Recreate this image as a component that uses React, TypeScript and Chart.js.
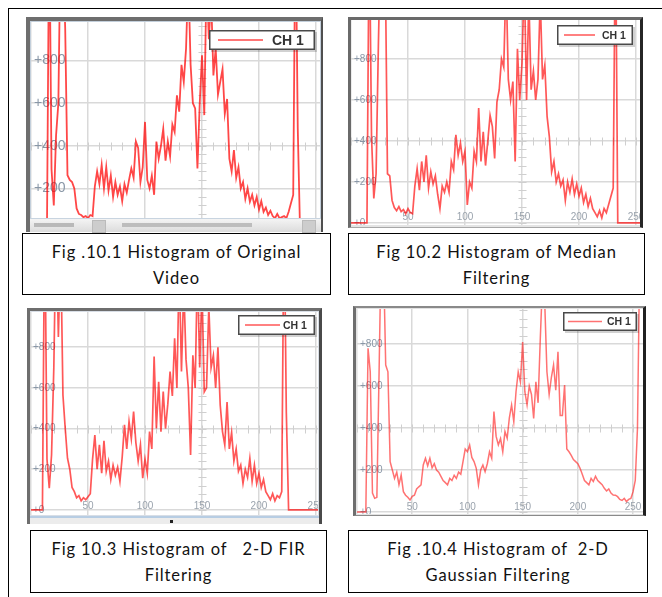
import React, { useEffect, useRef } from "react";
import { Chart, registerables } from "chart.js";

Chart.register(...registerables);

// Grey-level bins (every 2nd level of 0..256)
const LEVELS: number[] = Array.from({ length: 129 }, (_, i) => i * 2);
const X_TICKS = [50, 100, 150, 200, 250];
const X_GRID = [0, 50, 100, 150, 200, 250];
const Y_TICKS = [0, 200, 400, 600, 800];
const CROSS_X = 150;
const CROSS_Y = 400;
const CROSS_X_STEP = 10;
const CROSS_Y_STEP = 40;
const SERIES_LABEL = "CH 1";

const ORIGINAL = [
  0, 0, 0, 0, 0, 0, 0, 0,
  1500, 290, 120, 450, 600, 1400, 1300, 950,
  262, 240, 230, 200, 106, 80, 75, 65,
  70, 60, 75, 70, 210, 280, 220, 310,
  200, 300, 190, 260, 160, 230, 170, 210,
  140, 220, 180, 240, 294, 250, 420, 390,
  230, 300, 512, 240, 200, 260, 170, 420,
  340, 400, 480, 330, 420, 350, 500, 465,
  637, 560, 780, 700, 856, 1200, 780, 600,
  575, 294, 600, 825, 544, 1200, 900, 1100,
  730, 856, 640, 700, 760, 550, 620, 340,
  280, 380, 250, 300, 200, 230, 150, 200,
  137, 170, 120, 160, 100, 140, 90, 110,
  75, 95, 70, 60, 80, 60, 65, 70,
  60, 90, 130, 169, 1500, 480, 0, 0,
  0, 0, 0, 0, 0, 0, 0, 0, 0,
];

const MEDIAN = [
  0, 0, 0, 0, 0, 0, 0, 0,
  1500, 420, 120, 240, 860, 1400, 1400, 1300,
  240, 230, 110, 75, 60, 80, 55, 65,
  45, 70, 50, 45, 180, 265, 160, 300,
  200, 330, 170, 250, 190, 230, 140, 70,
  180, 150, 200, 150, 300, 260, 430, 330,
  390, 300, 350, 88, 200, 170, 350, 300,
  560, 300, 445, 280, 400, 525, 470, 315,
  590, 650, 800, 760, 1200, 700, 600, 690,
  300, 850, 600, 780, 1200, 600, 1100, 650,
  740, 600, 700, 1100, 700, 770, 520, 420,
  250, 300, 200, 240, 180, 210, 110, 200,
  150, 215, 140, 190, 130, 170, 100, 140,
  80, 120, 70, 50, 30, 60, 25, 70,
  50, 90, 130, 170, 1500, 0, 0, 0,
  0, 0, 0, 0, 0, 0, 0, 0, 0,
];

const FIR = [
  0, 0, 0, 0, 0, 0, 1500, 250,
  107, 270, 700, 1400, 850, 1300, 565, 400,
  254, 200, 110, 90, 60, 70, 45, 60,
  50, 65, 80, 250, 368, 200, 320, 180,
  340, 190, 240, 150, 220, 170, 210, 140,
  260, 418, 300, 435, 350, 484, 330, 240,
  320, 156, 250, 180, 385, 300, 754, 400,
  630, 385, 582, 400, 520, 680, 560, 844,
  600, 1200, 680, 1100, 740, 600, 270, 760,
  600, 1200, 700, 1100, 580, 600, 1000, 700,
  760, 600, 800, 516, 385, 320, 530, 300,
  380, 240, 300, 190, 220, 130, 200, 160,
  254, 140, 220, 130, 180, 110, 150, 90,
  70, 50, 80, 45, 70, 60, 90, 1500,
  480, 0, 0, 0, 0, 0, 0, 0,
  0, 0, 0, 0, 0, 0, 0, 0, 0,
];

const GAUSSIAN = [
  0, 0, 0, 0, 0, 780, 668, 90,
  65, 70, 668, 1300, 1200, 700, 668, 240,
  200, 160, 190, 130, 176, 97, 80, 70,
  57, 75, 80, 110, 120, 129, 224, 256,
  220, 256, 210, 230, 200, 190, 170, 150,
  140, 129, 160, 150, 175, 160, 190, 180,
  240, 300, 287, 319, 260, 240, 208, 129,
  200, 224, 192, 230, 287, 256, 478, 360,
  320, 350, 287, 383, 351, 450, 510, 430,
  573, 668, 620, 810, 573, 510, 600, 560,
  446, 620, 520, 827, 1100, 1000, 668, 560,
  640, 700, 580, 763, 460, 460, 605, 300,
  287, 270, 250, 240, 230, 208, 180, 150,
  140, 129, 160, 145, 170, 150, 140, 130,
  113, 100, 110, 90, 81, 80, 73, 60,
  55, 65, 50, 60, 65, 97, 150, 400, 1200,
];

const CAPTION_1 = ["Fig .10.1 Histogram of Original", "Video"];
const CAPTION_2 = ["Fig 10.2 Histogram of Median", "Filtering"];
const CAPTION_3 = ["Fig 10.3 Histogram of \u00a0 2-D FIR", "Filtering"];
const CAPTION_4 = ["Fig .10.4 Histogram of \u00a02-D", "Gaussian Filtering"];

type Box = { l: number; t: number; w: number; h: number };
type LegendCfg = { w: number; h: number; dx: number; dy: number; lx: number; lw: number; tx: number; font: string };
type PanelCfg = {
  values: number[];
  frame: Box;
  frameStyle: React.CSSProperties;
  plot: Box;
  xMin: number;
  xMax: number;
  yMin: number;
  yMax: number;
  tickFont: string;
  xLabels: boolean;
  xLabelOffset: number;
  legend: LegendCfg;
  lineColor: string;
  lineWidth: number;
  toolbar?: Box;
  toolbarKind?: number;
  caption: string[];
  capBox: Box;
};

const decorPlugin = {
  id: "decor",
  beforeDatasetsDraw(chart: any, _args: any, o: any) {
    const { ctx, chartArea: a, scales } = chart;
    const x = scales.x;
    const y = scales.y;
    ctx.save();
    ctx.strokeStyle = "#cfcfcf";
    ctx.lineWidth = 1;
    const cx = Math.round(x.getPixelForValue(CROSS_X)) + 0.5;
    const cy = Math.round(y.getPixelForValue(CROSS_Y)) + 0.5;
    ctx.beginPath();
    for (let v = 0; v <= 1000; v += CROSS_Y_STEP) {
      const py = Math.round(y.getPixelForValue(v)) + 0.5;
      ctx.moveTo(cx - 4, py);
      ctx.lineTo(cx + 4, py);
    }
    for (let l = 0; l <= 260; l += CROSS_X_STEP) {
      const px = Math.round(x.getPixelForValue(l)) + 0.5;
      ctx.moveTo(px, cy - 4);
      ctx.lineTo(px, cy + 4);
    }
    ctx.stroke();
    ctx.font = o.tickFont;
    ctx.fillStyle = "#8896a6";
    ctx.textAlign = "left";
    ctx.textBaseline = "middle";
    Y_TICKS.forEach((v) => ctx.fillText("+" + v, a.left + 3, y.getPixelForValue(v)));
    if (o.xLabels) {
      ctx.fillStyle = "#9aa3ad";
      ctx.textAlign = "center";
      X_TICKS.forEach((v) => ctx.fillText(String(v), x.getPixelForValue(v), a.bottom - o.xLabelOffset));
    }
    ctx.restore();
  },
  afterDraw(chart: any, _args: any, o: any) {
    const { ctx, chartArea: a } = chart;
    const L: LegendCfg = o.legend;
    const bx = a.right - L.dx - L.w;
    const by = a.top + L.dy;
    ctx.save();
    ctx.fillStyle = "rgba(0,0,0,0.18)";
    ctx.fillRect(bx + 2, by + 2, L.w, L.h);
    ctx.fillStyle = "#ffffff";
    ctx.fillRect(bx, by, L.w, L.h);
    ctx.strokeStyle = "#4a4a4a";
    ctx.lineWidth = 1.5;
    ctx.strokeRect(bx + 0.75, by + 0.75, L.w - 1.5, L.h - 1.5);
    ctx.strokeStyle = o.lineColor;
    ctx.lineWidth = 1.5;
    ctx.beginPath();
    ctx.moveTo(bx + L.lx, by + L.h / 2);
    ctx.lineTo(bx + L.lx + L.lw, by + L.h / 2);
    ctx.stroke();
    ctx.fillStyle = "#333333";
    ctx.font = L.font;
    ctx.textAlign = "left";
    ctx.textBaseline = "middle";
    ctx.fillText(chart.data.datasets[0].label, bx + L.tx, by + L.h / 2 + 1);
    ctx.restore();
  },
};

const PANELS: PanelCfg[] = [
  {
    values: ORIGINAL,
    frame: { l: 26, t: 17, w: 297, h: 215 },
    frameStyle: { borderLeft: "4px solid #6e6e6e", borderTop: "4px solid #6e6e6e", borderRight: "2px solid #4f4f4f", background: "#c3cfdb" },
    plot: { l: 31, t: 22, w: 289, h: 209 },
    xMin: 0, xMax: 253.5, yMin: 0, yMax: 981,
    tickFont: "14px 'Liberation Sans', Arial, sans-serif",
    xLabels: false, xLabelOffset: 8,
    legend: { w: 106, h: 20, dx: 5, dy: 8, lx: 9, lw: 45, tx: 63, font: "bold 14px 'Liberation Sans', Arial, sans-serif" },
    lineColor: "rgba(255,0,0,0.72)", lineWidth: 1.8,
    toolbar: { l: 30, t: 218, w: 291, h: 14 }, toolbarKind: 1,
    caption: CAPTION_1,
    capBox: { l: 22, t: 233, w: 309, h: 62 },
  },
  {
    values: MEDIAN,
    frame: { l: 348, t: 17, w: 295, h: 211 },
    frameStyle: { borderLeft: "3px solid #6a6a6a", borderTop: "3px solid #6a6a6a", borderRight: "3px solid #262626", borderBottom: "1px solid #a8a8a8", background: "#e4e4e4" },
    plot: { l: 351, t: 20, w: 289, h: 205 },
    xMin: 0, xMax: 253.5, yMin: -10, yMax: 990,
    tickFont: "10px 'Liberation Sans', Arial, sans-serif",
    xLabels: true, xLabelOffset: 8,
    legend: { w: 76, h: 20, dx: 7, dy: 5, lx: 7, lw: 31, tx: 45, font: "bold 10.5px 'Liberation Sans', Arial, sans-serif" },
    lineColor: "rgba(255,0,0,0.66)", lineWidth: 1.7,
    caption: CAPTION_2,
    capBox: { l: 348, t: 233, w: 297, h: 62 },
  },
  {
    values: FIR,
    frame: { l: 27, t: 308, w: 295, h: 216 },
    frameStyle: { borderLeft: "3px solid #6e6e6e", borderTop: "3px solid #6e6e6e", borderRight: "3px solid #4a4a4a", background: "#d8dee6" },
    plot: { l: 30, t: 312, w: 288, h: 203 },
    xMin: -0.9, xMax: 251.8, yMin: -25, yMax: 973,
    tickFont: "10px 'Liberation Sans', Arial, sans-serif",
    xLabels: true, xLabelOffset: 9,
    legend: { w: 77, h: 20, dx: 3, dy: 3, lx: 7, lw: 35, tx: 45, font: "bold 10.5px 'Liberation Sans', Arial, sans-serif" },
    lineColor: "rgba(255,0,0,0.66)", lineWidth: 1.7,
    toolbar: { l: 30, t: 516, w: 289, h: 8 }, toolbarKind: 2,
    caption: CAPTION_3,
    capBox: { l: 30, t: 530, w: 297, h: 63 },
  },
  {
    values: GAUSSIAN,
    frame: { l: 353, t: 306, w: 293, h: 210 },
    frameStyle: { borderLeft: "3px solid #6e6e6e", borderTop: "2px solid #8a8a8a", borderRight: "3px solid #202020", borderBottom: "1px solid #8a8a8a", background: "#e2e2e2" },
    plot: { l: 357, t: 309, w: 286, h: 205 },
    xMin: 0, xMax: 259, yMin: -9.5, yMax: 967,
    tickFont: "10px 'Liberation Sans', Arial, sans-serif",
    xLabels: true, xLabelOffset: 7,
    legend: { w: 74, h: 19, dx: 6, dy: 3, lx: 5, lw: 34, tx: 44, font: "bold 10.5px 'Liberation Sans', Arial, sans-serif" },
    lineColor: "rgba(255,20,20,0.6)", lineWidth: 1.5,
    caption: CAPTION_4,
    capBox: { l: 348, t: 530, w: 300, h: 63 },
  },
];

function Panel({ cfg }: { cfg: PanelCfg }) {
  const ref = useRef<HTMLCanvasElement | null>(null);
  useEffect(() => {
    if (!ref.current) return;
    const gridOpts = { color: "#d9d9d9", lineWidth: 1.5, drawTicks: false };
    const chart = new Chart(ref.current, {
      type: "line",
      data: {
        datasets: [
          {
            label: SERIES_LABEL,
            data: cfg.values.map((v, i) => ({ x: LEVELS[i], y: v })),
            borderColor: cfg.lineColor,
            borderWidth: cfg.lineWidth,
            pointRadius: 0,
            tension: 0,
            fill: false,
          },
        ],
      },
      options: {
        responsive: false,
        animation: false,
        devicePixelRatio: 1,
        layout: { padding: 0 },
        plugins: {
          legend: { display: false },
          tooltip: { enabled: false },
          decor: {
            tickFont: cfg.tickFont,
            xLabels: cfg.xLabels,
            xLabelOffset: cfg.xLabelOffset,
            legend: cfg.legend,
            lineColor: cfg.lineColor,
          },
        } as any,
        scales: {
          x: {
            type: "linear",
            min: cfg.xMin,
            max: cfg.xMax,
            ticks: { display: false },
            grid: gridOpts,
            border: { display: false },
            afterBuildTicks: (s: any) => {
              s.ticks = X_GRID.map((value) => ({ value }));
            },
          },
          y: {
            type: "linear",
            min: cfg.yMin,
            max: cfg.yMax,
            ticks: { display: false },
            grid: gridOpts,
            border: { display: false },
            afterBuildTicks: (s: any) => {
              s.ticks = Y_TICKS.map((value) => ({ value }));
            },
          },
        },
      },
      plugins: [decorPlugin as any],
    });
    return () => chart.destroy();
  }, [cfg]);

  const abs = (b: Box): React.CSSProperties => ({ position: "absolute", left: b.l, top: b.t, width: b.w, height: b.h });

  return (
    <>
      <div style={{ ...abs(cfg.frame), boxSizing: "border-box", ...cfg.frameStyle }} />
      <div style={{ ...abs(cfg.plot), background: "#ffffff" }}>
        <canvas ref={ref} width={cfg.plot.w} height={cfg.plot.h} style={{ display: "block", width: cfg.plot.w, height: cfg.plot.h }} />
      </div>
      {cfg.toolbar && cfg.toolbarKind === 1 && (
        <div style={{ ...abs(cfg.toolbar), background: "linear-gradient(#f4f4f4, #dcdcdc)", borderTop: "1px solid #c8d4e0", boxSizing: "border-box" }}>
          <div style={{ position: "absolute", left: 4, top: 4, width: 40, height: 4, background: "#b9b9b9" }} />
          <div style={{ position: "absolute", left: 62, top: 1, width: 12, height: 11, background: "#cdcdcd", border: "1px solid #bbb" }} />
          <div style={{ position: "absolute", left: 92, top: 4, width: 130, height: 4, background: "#bdbdbd" }} />
          <div style={{ position: "absolute", left: 272, top: 1, width: 12, height: 11, background: "#cdcdcd", border: "1px solid #bbb" }} />
        </div>
      )}
      {cfg.toolbar && cfg.toolbarKind === 2 && (
        <div style={{ ...abs(cfg.toolbar), background: "#ececec", borderTop: "2px solid #b7cde3", boxSizing: "border-box" }}>
          <div style={{ position: "absolute", left: 140, top: 2, width: 3, height: 3, background: "#222" }} />
        </div>
      )}
      <div
        style={{
          ...abs(cfg.capBox),
          boxSizing: "border-box",
          border: "1px solid #000",
          background: "#fff",
          fontFamily: "Lato, 'Open Sans', sans-serif",
          fontSize: 16.5,
          letterSpacing: "0.9px",
          lineHeight: "26px",
          textAlign: "center",
          color: "#111",
          paddingTop: 5,
          whiteSpace: "nowrap",
        }}
      >
        <div>{cfg.caption[0]}</div>
        <div>{cfg.caption[1]}</div>
      </div>
    </>
  );
}

export default function App() {
  return (
    <div style={{ position: "absolute", left: 0, top: 0, width: 662, height: 597, background: "#fff", overflow: "hidden" }}>
      <div style={{ position: "absolute", left: 8, top: 8, width: 660, height: 600, borderLeft: "1px solid #000", borderTop: "1px solid #000" }} />
      {PANELS.map((p, i) => (
        <Panel key={i} cfg={p} />
      ))}
    </div>
  );
}
